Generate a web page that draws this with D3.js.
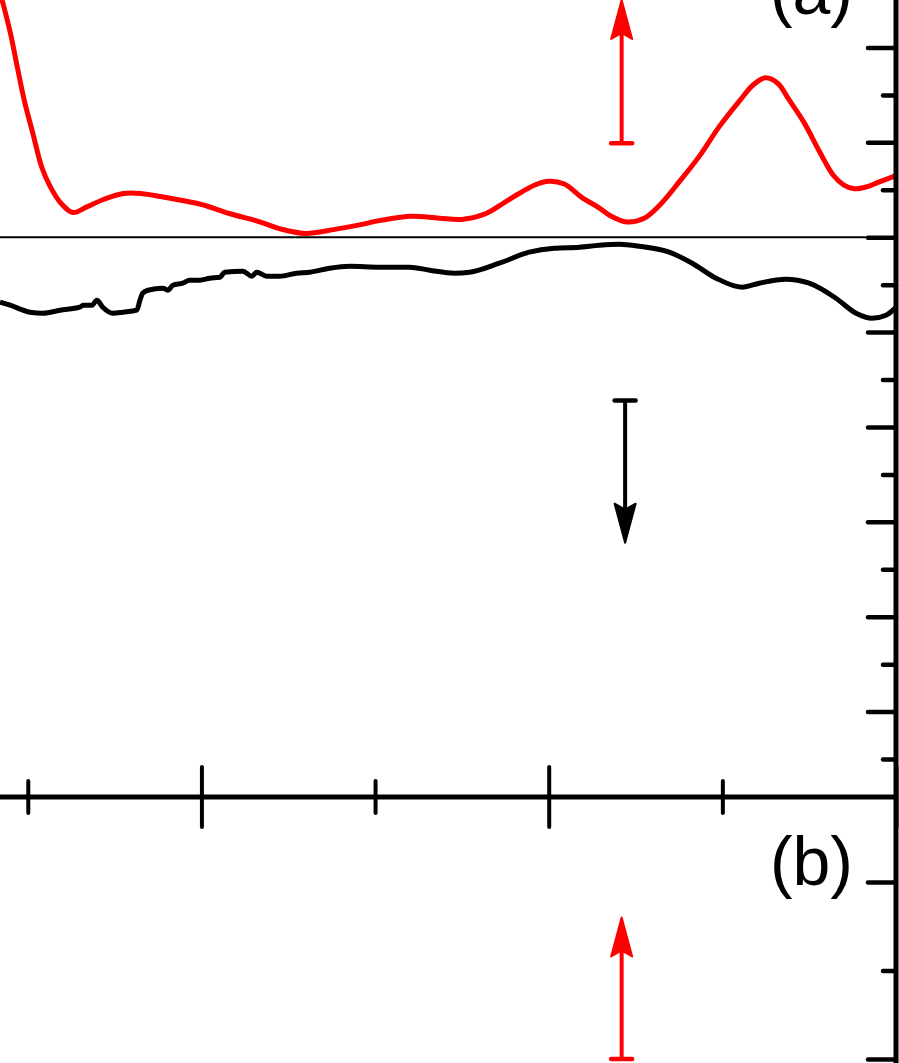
<!DOCTYPE html>
<html>
<head>
<meta charset="utf-8">
<script src="https://cdn.jsdelivr.net/npm/d3@7"></script>
<style>
body { margin: 0; background: #fff; }
svg { display: block; }
</style>
</head>
<body>
<script>
// panel (a), red curve
var redX = [340, 342.6, 345, 347, 349, 351.5, 354, 356.5, 359.5, 363, 367, 372, 377.5, 382.5, 391, 399.5, 408, 417, 422.5, 430,
    438, 445.5, 452, 460.5, 468.5, 475.5, 482, 487, 491, 496, 500, 504.5, 509.5, 514.5, 518, 522.5, 527.5, 532, 537.5, 543.5,
    549, 555, 559, 562.5, 566, 569, 573.5, 578, 582, 585, 588, 591.5, 595, 600]
var redY = [2.85, 2.50, 2.15, 1.79, 1.44, 1.09, 0.74, 0.53, 0.36, 0.26, 0.32, 0.40, 0.46, 0.46, 0.41, 0.35, 0.25, 0.16, 0.09, 0.04,
    0.08, 0.13, 0.18, 0.22, 0.20, 0.19, 0.25, 0.36, 0.45, 0.55, 0.59, 0.56, 0.42, 0.31, 0.22, 0.16, 0.20, 0.34, 0.58, 0.86,
    1.16, 1.44, 1.61, 1.68, 1.62, 1.46, 1.21, 0.90, 0.65, 0.55, 0.51, 0.53, 0.58, 0.65]

// panel (a), black curve
var blackX = [342, 344.9, 350.6, 354.4, 359.3, 365, 365.9, 368.5, 369.9, 371.6, 374.5, 377.4, 381.4, 382.3, 383.1, 384.6, 388.9, 390.3, 391.8, 394.6,
    396.6, 399.5, 402.4, 405.3, 406.7, 411.9, 414.5, 415.9, 418.8, 422.5, 427.4, 431.2, 436.9, 442.7, 451.3, 459.9, 465.7, 472.9, 477.2, 485.8,
    494.4, 501.6, 508.8, 514.6, 520.3, 526.1, 534.7, 541.3, 548.2, 555.7, 560.6, 568.3, 575, 582.7, 588.5, 593.1, 597.1, 600]
var blackY = [-0.685, -0.717, -0.790, -0.801, -0.769, -0.738, -0.717, -0.717, -0.664, -0.738, -0.801, -0.790, -0.769, -0.664, -0.590, -0.559, -0.538, -0.559, -0.506, -0.485,
    -0.453, -0.453, -0.432, -0.422, -0.369, -0.358, -0.411, -0.369, -0.411, -0.411, -0.379, -0.369, -0.327, -0.306, -0.316, -0.316, -0.348, -0.379, -0.369, -0.274,
    -0.158, -0.116, -0.105, -0.084, -0.074, -0.095, -0.158, -0.274, -0.432, -0.527, -0.485, -0.443, -0.485, -0.643, -0.801, -0.854, -0.822, -0.738]

// ticks
var xMajor = [400, 500, 600]
var xMinor = [350, 450, 550]
var aMajor = [2, 1, 0, -1, -2, -3, -4, -5]
var aMinor = [1.5, 0.5, -0.5, -1.5, -2.5, -3.5, -4.5, -5.5]
var bMajor = [1, 0]
var bMinor = [0.5]

// arrows: x, start (bar end), tip
var arrowsA = [
    {x: 521, from: 0.99, to: 2.5, color: '#ff0000'},
    {x: 522, from: -1.72, to: -3.22, color: '#000000'}
]
var arrowsB = [
    {x: 521, from: 0, to: 0.8, color: '#ff0000'}
]
var labelA = '(a)'
var labelB = '(b)'

var width = 899
var height = 1063
var axisY = 797      // bottom of panel (a)
var axisX = 896      // right axis

var x = d3.scaleLinear().domain([342, 600]).range([0, axisX])
var yA = d3.scaleLinear().domain([-5.9, 2.5]).range([axisY, 0])
var yB = d3.scaleLinear().domain([0, 1]).range([1059, 882])

var svg = d3.select('body').append('svg')
    .attr('width', width)
    .attr('height', height)
    .style('font-family', '"Liberation Sans", Arial, sans-serif')

svg.append('defs').append('clipPath')
    .attr('id', 'clipA')
    .append('rect')
    .attr('x', 0).attr('y', -50)
    .attr('width', axisX).attr('height', axisY + 50)

var plotA = svg.append('g').attr('clip-path', 'url(#clipA)')

// zero line
plotA.append('line')
    .attr('x1', 0).attr('x2', axisX)
    .attr('y1', yA(0)).attr('y2', yA(0))
    .attr('stroke', '#000')
    .attr('stroke-width', 2)

var redLine = d3.line()
    .x(function(d){ return x(d[0]) })
    .y(function(d){ return yA(d[1]) })
    .curve(d3.curveCatmullRom.alpha(0.5))

var blackLine = d3.line()
    .x(function(d){ return x(d[0]) })
    .y(function(d){ return yA(d[1]) })
    .curve(d3.curveMonotoneX)

plotA.append('path')
    .datum(d3.zip(redX, redY))
    .attr('d', redLine)
    .attr('fill', 'none')
    .attr('stroke', '#ff0000')
    .attr('stroke-width', 5)
    .attr('stroke-linejoin', 'round')

plotA.append('path')
    .datum(d3.zip(blackX, blackY))
    .attr('d', blackLine)
    .attr('fill', 'none')
    .attr('stroke', '#000')
    .attr('stroke-width', 5)
    .attr('stroke-linejoin', 'round')

// arrows
function drawArrow(g, a, y){
    var px = x(a.x)
    var y0 = y(a.from)
    var y1 = y(a.to)
    var dir = y1 < y0 ? -1 : 1
    var headLen = 39
    var half = 10.5
    var base = y1 - dir*headLen
    g.append('line')
        .attr('x1', px).attr('x2', px)
        .attr('y1', y0).attr('y2', base + dir*6)
        .attr('stroke', a.color)
        .attr('stroke-width', 4)
    g.append('line')
        .attr('x1', px - half).attr('x2', px + half)
        .attr('y1', y0).attr('y2', y0)
        .attr('stroke', a.color)
        .attr('stroke-width', 4.5)
        .attr('stroke-linecap', 'round')
    g.append('path')
        .attr('d', 'M' + px + ',' + y1 +
            'L' + (px - half) + ',' + base +
            'L' + px + ',' + (base + dir*6) +
            'L' + (px + half) + ',' + base + 'Z')
        .attr('fill', a.color)
        .attr('stroke', a.color)
        .attr('stroke-width', 2)
        .attr('stroke-linejoin', 'round')
}
arrowsA.forEach(function(a){ drawArrow(plotA, a, yA) })
var plotB = svg.append('g')
arrowsB.forEach(function(a){ drawArrow(plotB, a, yB) })

// bottom axis of (a), ticks cross the line
function xTicks(values, size){
    var g = svg.append('g')
        .attr('transform', 'translate(0,' + axisY + ')')
        .call(d3.axisBottom(x).tickValues(values).tickSize(size).tickFormat(''))
    g.select('.domain').remove()
    g.selectAll('.tick line')
        .attr('y1', -size)
        .attr('y2', size)
        .attr('stroke', '#000')
        .attr('stroke-width', 4)
        .attr('stroke-linecap', 'round')
}
xTicks(xMajor, 30)
xTicks(xMinor, 16)

svg.append('line')
    .attr('x1', 0).attr('x2', axisX)
    .attr('y1', axisY).attr('y2', axisY)
    .attr('stroke', '#000')
    .attr('stroke-width', 5)

// right axis ticks
function yTicks(scale, values, size){
    var g = svg.append('g')
        .attr('transform', 'translate(' + axisX + ',0)')
        .call(d3.axisLeft(scale).tickValues(values).tickSize(size).tickFormat(''))
    g.select('.domain').remove()
    g.selectAll('.tick line')
        .attr('stroke', '#000')
        .attr('stroke-width', 4.5)
        .attr('stroke-linecap', 'round')
}
yTicks(yA, aMajor, 28)
yTicks(yA, aMinor, 13)
yTicks(yB, bMajor, 28)
yTicks(yB, bMinor, 13)

svg.append('line')
    .attr('x1', axisX).attr('x2', axisX)
    .attr('y1', 0).attr('y2', height)
    .attr('stroke', '#000')
    .attr('stroke-width', 5)

// panel labels ((a) is cut by the top edge, as in the source figure)
svg.append('text')
    .attr('x', 853).attr('y', 14)
    .attr('text-anchor', 'end')
    .attr('font-size', 68)
    .text(labelA)

svg.append('text')
    .attr('x', 853).attr('y', 885)
    .attr('text-anchor', 'end')
    .attr('font-size', 68)
    .text(labelB)
</script>
</body>
</html>
